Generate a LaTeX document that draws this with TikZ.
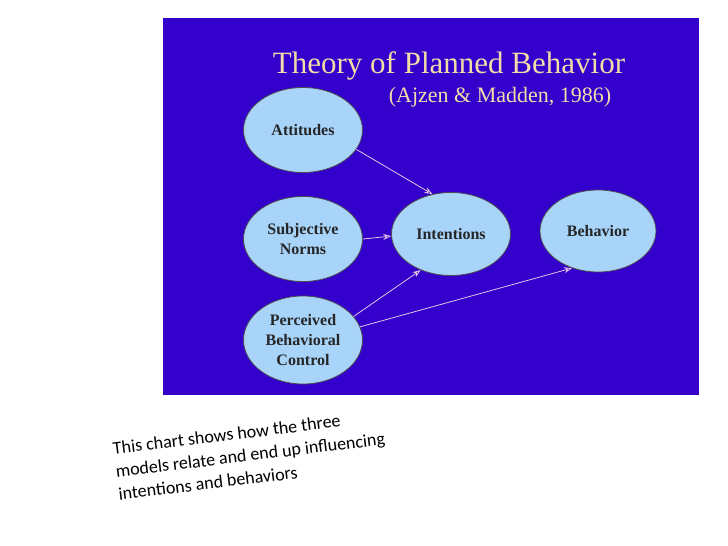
\documentclass[tikz,border=0pt]{standalone}
\usepackage{fontspec}
\setmainfont{Liberation Serif}
\newfontfamily\capfont{Carlito}
\usetikzlibrary{shapes.geometric,arrows.meta}
\definecolor{bgblue}{HTML}{3300CC}
\definecolor{ellfill}{HTML}{A8D4FA}
\definecolor{arrcol}{HTML}{E6C6E6}
\definecolor{titlecol}{HTML}{F2DCA8}
\tikzset{x=1pt,y=-1pt,
 ell/.style={ellipse,draw=black!70,line width=0.8pt,fill=ellfill,minimum width=119pt,minimum height=85pt,inner sep=0pt,align=center,font=\fontsize{16}{20}\selectfont\bfseries,text=black!85},
 conn/.style={arrcol,line width=0.8pt,-{Stealth[length=8pt,width=6pt,open]}}}
\begin{document}
\begin{tikzpicture}
\useasboundingbox (0,0) rectangle (728,546);
\fill[white] (0,0) rectangle (728,546);
\fill[bgblue] (163,18) rectangle (699,395);
\node[text=titlecol,font=\fontsize{31}{34}\selectfont] (title) at (449,66) {Theory of Planned Behavior};
\node[text=titlecol,font=\fontsize{22}{24}\selectfont] (sub) at (500,97) {(Ajzen \& Madden, 1986)};
\node[ell] (att) at (303,130) {Attitudes};
\node[ell] (sn) at (303,239) {Subjective\\Norms};
\node[ell,minimum height=88pt] (pbc) at (303,340) {Perceived\\Behavioral\\Control};
\node[ell,minimum height=83pt] (int) at (451,234) {Intentions};
\node[ell,minimum width=116pt,minimum height=82pt] (beh) at (598,231) {Behavior};
\draw[conn] (att.-20) -- (int.115);
\draw[conn] (sn.east) -- (int.182);
\draw[conn] (pbc.25) -- (int.230);
\draw[conn] (pbc.13) -- (beh.235);
\node[font=\capfont\fontsize{18}{23}\selectfont,align=left,anchor=north west,rotate=7,inner sep=0pt] (cap) at (112,442) {This chart shows how the three\\models relate and end up influencing\\intentions and behaviors};
\end{tikzpicture}
\end{document}
